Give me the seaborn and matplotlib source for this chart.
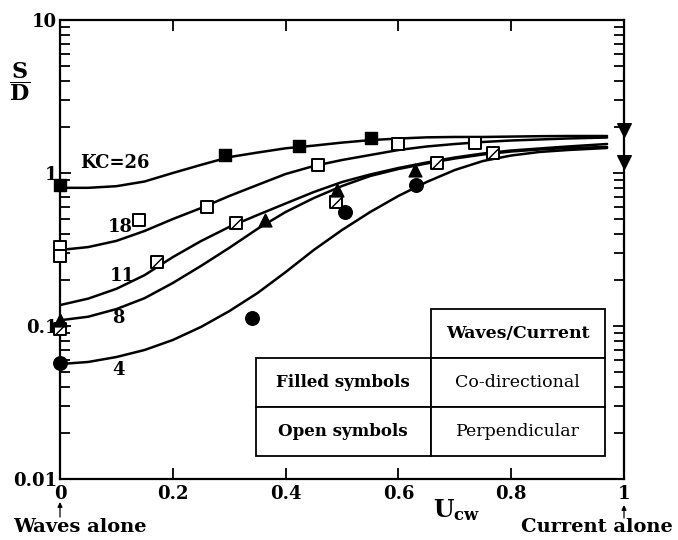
import numpy as np
import pandas as pd
import matplotlib
matplotlib.use("Agg")
import matplotlib.pyplot as plt
from matplotlib.path import Path
from matplotlib.patches import Rectangle
from matplotlib.ticker import LogLocator, NullFormatter, FixedLocator, FixedFormatter
import seaborn as sns

# ---------------- data ----------------
curve_x = [0.0, 0.05, 0.10, 0.15, 0.20, 0.25, 0.30, 0.35, 0.40, 0.45,
           0.50, 0.55, 0.60, 0.65, 0.70, 0.75, 0.80, 0.85, 0.90, 0.97]
curve_kc26 = [0.80, 0.80, 0.82, 0.88, 1.00, 1.13, 1.27, 1.36, 1.45, 1.51,
              1.58, 1.64, 1.68, 1.71, 1.72, 1.72, 1.73, 1.74, 1.745, 1.745]
curve_kc18 = [0.314, 0.328, 0.360, 0.418, 0.500, 0.590, 0.707, 0.835, 0.985, 1.111,
              1.216, 1.311, 1.413, 1.490, 1.547, 1.595, 1.631, 1.656, 1.681, 1.706]
curve_kc11 = [0.137, 0.151, 0.175, 0.215, 0.282, 0.359, 0.444, 0.531, 0.632, 0.751,
              0.873, 0.978, 1.078, 1.171, 1.263, 1.341, 1.403, 1.446, 1.490, 1.547]
curve_kc8 = [0.109, 0.115, 0.129, 0.152, 0.191, 0.247, 0.324, 0.431, 0.556, 0.686,
             0.822, 0.956, 1.062, 1.154, 1.244, 1.321, 1.382, 1.424, 1.457, 1.479]
curve_kc4 = [0.0564, 0.0582, 0.0627, 0.0697, 0.0810, 0.0986, 0.125, 0.164, 0.225, 0.314,
             0.424, 0.556, 0.708, 0.873, 1.046, 1.198, 1.301, 1.372, 1.413, 1.457]
curve_names = ["26", "18", "11", "8", "4"]

# filled squares (KC=26, co-directional)
sq_fill_x = [0.0, 0.293, 0.424, 0.551]
sq_fill_y = [0.835, 1.31, 1.50, 1.69]
# open squares (KC=18, perpendicular)
sq_open_x = [0.0, 0.0, 0.140, 0.261, 0.458, 0.599, 0.736]
sq_open_y = [0.328, 0.287, 0.493, 0.600, 1.13, 1.55, 1.57]
# crossed open squares (KC=11)
sq_cross_x = [0.0, 0.172, 0.312, 0.489, 0.668, 0.768]
sq_cross_y = [0.096, 0.262, 0.471, 0.649, 1.157, 1.357]
# filled triangles (KC=8)
tri_x = [0.0, 0.363, 0.491, 0.630]
tri_y = [0.109, 0.493, 0.774, 1.046]
# filled circles (KC=4)
circ_x = [0.0, 0.340, 0.505, 0.631]
circ_y = [0.0576, 0.113, 0.558, 0.835]
# current-alone arrows at Ucw = 1
cur_x = [1.0, 1.0]
cur_y = [1.91, 1.18]

curve_labels = ["KC=26", "18", "11", "8", "4"]
label_x = [0.035, 0.085, 0.088, 0.093, 0.093]
label_y = [1.16, 0.444, 0.212, 0.113, 0.0515]

xtick_vals = [0, 0.2, 0.4, 0.6, 0.8, 1.0]
xtick_text = ["0", "0.2", "0.4", "0.6", "0.8", "1"]
ytick_vals = [0.01, 0.1, 1, 10]
ytick_text = ["0.01", "0.1", "1", "10"]

table_head = "Waves/Current"
table_rows = [("Filled symbols", "Co-directional"), ("Open symbols", "Perpendicular")]

# ---------------- style ----------------
sns.set_style("ticks")
plt.rcParams["font.family"] = ["DejaVu Serif"]
plt.rcParams["mathtext.fontset"] = "dejavuserif"
for key in ["text.color", "axes.labelcolor", "xtick.color", "ytick.color",
            "axes.edgecolor", "xtick.labelcolor", "ytick.labelcolor"]:
    plt.rcParams[key] = "black"

W, H = 678, 540
fig = plt.figure(figsize=(W / 100, H / 100), dpi=100)
fig.patch.set_facecolor("white")
ax = fig.add_axes([60 / W, 1 - 479 / H, (624 - 60) / W, (479 - 20) / H])
ax.set_facecolor("white")

df = pd.concat([
    pd.DataFrame({"U": curve_x, "SD": ys, "KC": name})
    for name, ys in zip(curve_names,
                        [curve_kc26, curve_kc18, curve_kc11, curve_kc8, curve_kc4])
])
sns.lineplot(data=df, x="U", y="SD", units="KC", estimator=None, sort=False,
             color="black", lw=1.8, ax=ax, legend=False)

def scat(xs, ys, **kw):
    sns.scatterplot(x=xs, y=ys, ax=ax, legend=False, zorder=6, **kw)
    ax.collections[-1].set_clip_on(False)

scat(sq_fill_x, sq_fill_y, marker="s", s=70, color="black", edgecolor="black", linewidth=1)
scat(sq_open_x, sq_open_y, marker="s", s=70, color="white", edgecolor="black", linewidth=1.4)
scat(sq_cross_x, sq_cross_y, marker="s", s=70, color="white", edgecolor="black", linewidth=1.4)
slash = [(-1.45, -1.33), (-1.33, -1.45), (1.45, 1.33), (1.33, 1.45)]
scat(sq_cross_x, sq_cross_y, marker=slash, s=75, color="black", edgecolor="black",
     linewidth=0.9)
scat(tri_x, tri_y, marker="^", s=85, color="black", edgecolor="black", linewidth=1)
scat(circ_x, circ_y, marker="o", s=95, color="black", edgecolor="black", linewidth=1)
scat(cur_x, cur_y, marker="v", s=95, color="black", edgecolor="black", linewidth=1)

ax.set_yscale("log")
ax.set_xlim(0, 1)
ax.set_ylim(0.01, 10)
ax.xaxis.set_major_locator(FixedLocator(xtick_vals))
ax.xaxis.set_major_formatter(FixedFormatter(xtick_text))
ax.yaxis.set_major_locator(FixedLocator(ytick_vals))
ax.yaxis.set_major_formatter(FixedFormatter(ytick_text))
ax.yaxis.set_minor_locator(LogLocator(base=10, subs=np.arange(2, 10)))
ax.yaxis.set_minor_formatter(NullFormatter())
ax.tick_params(axis="both", which="major", direction="in", length=8, width=1.3,
               top=True, right=True, labelsize=13, pad=4, colors="black")
ax.tick_params(axis="y", which="major", pad=2)
ax.tick_params(axis="y", which="minor", direction="in", length=7, width=1.3,
               left=True, right=True, colors="black")
for lab in ax.get_xticklabels() + ax.get_yticklabels():
    lab.set_fontweight("bold")
for sp in ax.spines.values():
    sp.set_linewidth(1.6)
    sp.set_color("black")
    sp.set_visible(True)
ax.set_xlabel("")
ax.set_ylabel("")

for t, lx, ly in zip(curve_labels, label_x, label_y):
    ax.text(lx, ly, t, fontsize=13, fontweight="bold", ha="left", va="center",
            color="black", zorder=7)

# ---------------- table ----------------
tx = [0.3475, 0.657, 0.966]
ty = [0.3704, 0.2636, 0.1575, 0.0501]
def cell(x0, y0, x1, y1):
    ax.add_patch(Rectangle((x0, y0), x1 - x0, y1 - y0, transform=ax.transAxes,
                           facecolor="white", edgecolor="black", lw=1.3, zorder=8))
cell(tx[1], ty[1], tx[2], ty[0])
ax.text((tx[1] + tx[2]) / 2, (ty[0] + ty[1]) / 2, table_head, transform=ax.transAxes,
        ha="center", va="center", fontsize=12.5, fontweight="bold", color="black", zorder=9)
for i, (left, right) in enumerate(table_rows):
    y0, y1 = ty[i + 2], ty[i + 1]
    cell(tx[0], y0, tx[1], y1)
    cell(tx[1], y0, tx[2], y1)
    ax.text((tx[0] + tx[1]) / 2, (y0 + y1) / 2, left, transform=ax.transAxes,
            ha="center", va="center", fontsize=12, fontweight="bold", color="black", zorder=9)
    ax.text((tx[1] + tx[2]) / 2, (y0 + y1) / 2, right, transform=ax.transAxes,
            ha="center", va="center", fontsize=12.5, color="black", zorder=9)

# ---------------- outer labels ----------------
def fpx(x, y):
    return x / W, 1 - y / H

fig.text(*fpx(20, 82), r"$\dfrac{\mathbf{S}}{\mathbf{D}}$", fontsize=16,
         ha="center", va="center", color="black")
fig.text(*fpx(457, 510), r"$\mathbf{U}_{\mathbf{cw}}$", fontsize=17,
         ha="center", va="center", color="black")
fig.text(*fpx(80, 527), "Waves alone", fontsize=14, fontweight="bold",
         ha="center", va="center", color="black")
fig.text(*fpx(597, 527), "Current alone", fontsize=14, fontweight="bold",
         ha="center", va="center", color="black")
for xp, y_from, y_to in [(60, 517, 502), (624, 518, 505)]:
    ax.annotate("", xy=(xp, H - y_to), xytext=(xp, H - y_from),
                xycoords="figure pixels", textcoords="figure pixels",
                arrowprops=dict(arrowstyle="-|>", lw=0.9, color="black",
                                mutation_scale=7, shrinkA=0, shrinkB=0))

fig.savefig("out.png", dpi=100, facecolor="white")
